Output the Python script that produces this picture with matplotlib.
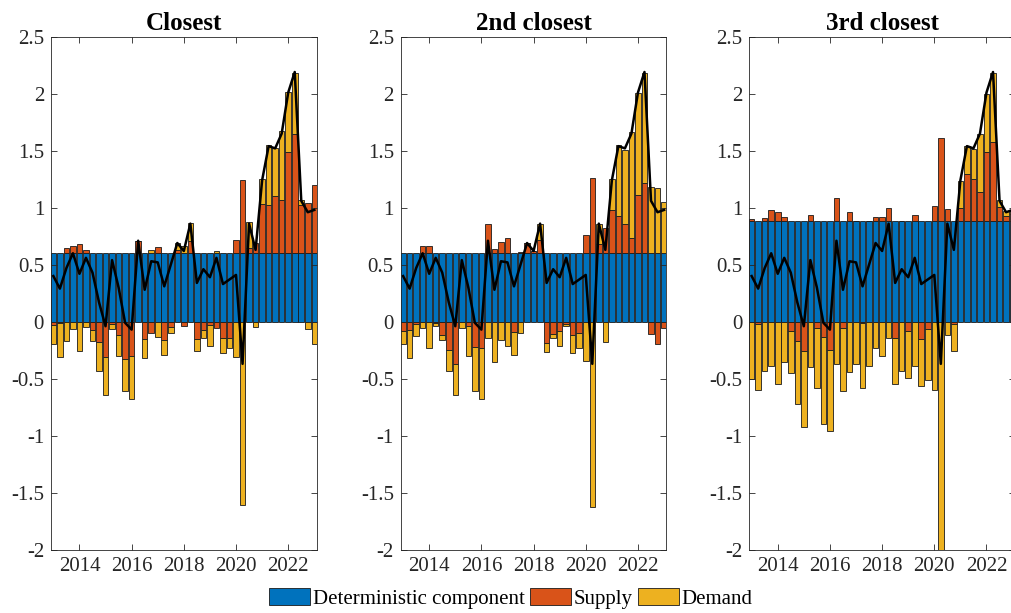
import numpy as np
import matplotlib.pyplot as plt
from matplotlib.ticker import FixedLocator

plt.rcParams['font.family'] = ['Liberation Serif', 'DejaVu Serif']

# quarterly dates, 2013Q1 .. 2023Q1
years = np.arange(2013, 2023.01, 0.25)

# observed series (black line), same in every panel
observed = [0.40, 0.29, 0.47, 0.60, 0.42, 0.56, 0.43, 0.17, -0.04, 0.54,
            0.30, -0.01, -0.07, 0.71, 0.28, 0.53, 0.52, 0.31, 0.50, 0.69,
            0.62, 0.86, 0.34, 0.46, 0.39, 0.56, 0.33, 0.37, 0.41, -0.37,
            0.86, 0.63, 1.24, 1.54, 1.52, 1.65, 2.01, 2.19, 1.06, 0.96, 0.98]

titles = ['Closest', '2nd closest', '3rd closest']
deterministic = [0.6, 0.6, 0.885]

supply_1 = [-0.026, -0.01, 0.047, 0.068, 0.085, 0.026, -0.074, -0.18, -0.31, -0.02,
            -0.12, -0.33, -0.30, 0.11, -0.15, -0.10, 0.056, -0.165, -0.047, 0.03,
            -0.04, 0.106, -0.15, -0.07, -0.03, -0.056, -0.145, -0.14, 0.12, 0.64,
            0.05, 0.09, 0.43, 0.42, 0.50, 0.47, 0.885, 1.05, 0.42, 0.44, 0.60]
demand_1 = [-0.17, -0.30, -0.17, -0.06, -0.26, -0.05, -0.094, -0.25, -0.33, -0.04,
            -0.18, -0.28, -0.38, 0.0, -0.17, 0.03, -0.135, -0.126, -0.053, 0.06,
            0.06, 0.16, -0.11, -0.075, -0.18, 0.02, -0.127, -0.09, -0.31, -1.61,
            0.22, -0.05, 0.22, 0.53, 0.42, 0.60, 0.53, 0.535, 0.05, -0.065, -0.20]

supply_2 = [-0.085, -0.07, -0.018, 0.068, 0.06, -0.01, -0.115, -0.25, -0.37, 0.0,
            -0.04, -0.22, -0.23, 0.26, 0.04, 0.10, 0.135, -0.09, 0.01, 0.09,
            0.02, 0.12, -0.19, -0.11, -0.085, -0.02, -0.12, -0.10, 0.16, 0.66,
            0.08, 0.22, 0.38, 0.33, 0.26, 0.135, 0.51, 0.62, -0.105, -0.195, -0.056]
demand_2 = [-0.11, -0.245, -0.11, -0.056, -0.23, -0.03, -0.05, -0.185, -0.27, -0.055,
            -0.26, -0.39, -0.45, -0.14, -0.35, -0.16, -0.21, -0.20, -0.10, 0.0,
            0.0, 0.14, -0.074, -0.035, -0.13, -0.02, -0.156, -0.13, -0.345, -1.624,
            0.18, -0.18, 0.27, 0.62, 0.65, 0.93, 0.90, 0.965, 0.585, 0.57, 0.45]

supply_3 = [0.015, -0.018, 0.02, 0.094, 0.08, 0.03, -0.08, -0.168, -0.253, 0.055,
            -0.056, -0.135, -0.25, 0.196, -0.056, 0.08, 0.0, -0.012, 0.0, 0.035,
            0.035, 0.11, -0.14, 0.0, -0.085, 0.055, -0.15, -0.065, 0.13, 0.73,
            0.10, -0.018, 0.115, 0.41, 0.366, 0.254, 0.606, 0.694, 0.118, 0.04, 0.06]
demand_3 = [-0.50, -0.58, -0.43, -0.385, -0.55, -0.35, -0.367, -0.55, -0.67, -0.40,
            -0.53, -0.76, -0.71, -0.37, -0.55, -0.44, -0.37, -0.57, -0.39, -0.23,
            -0.305, -0.14, -0.41, -0.43, -0.41, -0.385, -0.41, -0.45, -0.60, -2.0,
            -0.12, -0.235, 0.235, 0.246, 0.264, 0.51, 0.51, 0.60, 0.064, 0.045, 0.03]

supplies = [supply_1, supply_2, supply_3]
demands = [demand_1, demand_2, demand_3]

labels = ['Deterministic component', 'Supply', 'Demand']
colors = ['#0072BD', '#D95319', '#EDB120']
axis_grey = '#262626'

fig = plt.figure(figsize=(10.12, 6.13), dpi=100)
lefts = [0.0504, 0.396, 0.7404]
width = 0.2625
barw = 0.2125

for k in range(3):
    ax = fig.add_axes([lefts[k], 0.1033, width, 0.8369])
    comps = [np.full(len(years), deterministic[k]), np.array(supplies[k]), np.array(demands[k])]
    pos_base = np.zeros(len(years))
    neg_base = np.zeros(len(years))
    handles = []
    for vals, col, lab in zip(comps, colors, labels):
        base = np.where(vals >= 0, pos_base, neg_base)
        h = ax.bar(years, vals, width=barw, bottom=base, color=col,
                   edgecolor='#1a1a1a', linewidth=0.6, label=lab)
        handles.append(h)
        pos_base = pos_base + np.clip(vals, 0, None)
        neg_base = neg_base + np.clip(vals, None, 0)
    ax.plot(years, observed, color='black', linewidth=1.8)

    ax.set_xlim(2012.91, 2023.09)
    ax.set_ylim(-2, 2.5)
    ax.set_xticks([2014, 2016, 2018, 2020, 2022])
    ax.set_xticklabels(['2014', '2016', '2018', '2020', '2022'])
    yt = np.arange(-2, 2.51, 0.5)
    ax.yaxis.set_major_locator(FixedLocator(yt))
    ax.set_yticklabels(['%g' % v for v in yt])
    ax.tick_params(direction='in', top=True, right=True, length=4,
                   labelsize=15, colors=axis_grey, labelcolor=axis_grey, width=0.6)
    ax.tick_params(axis='x', pad=5)
    ax.tick_params(axis='y', pad=5)
    for s in ax.spines.values():
        s.set_color(axis_grey)
        s.set_linewidth(0.6)
    ax.set_title(titles[k], fontsize=18, fontweight='bold', pad=5)

fig.legend(handles=handles, labels=labels, loc='center', bbox_to_anchor=(0.505, 0.024),
           ncol=3, frameon=False, fontsize=15, handlelength=1.95, handleheight=0.85,
           handletextpad=0.15, columnspacing=0.25, borderpad=0.1)

fig.savefig('out.png', dpi=100)
